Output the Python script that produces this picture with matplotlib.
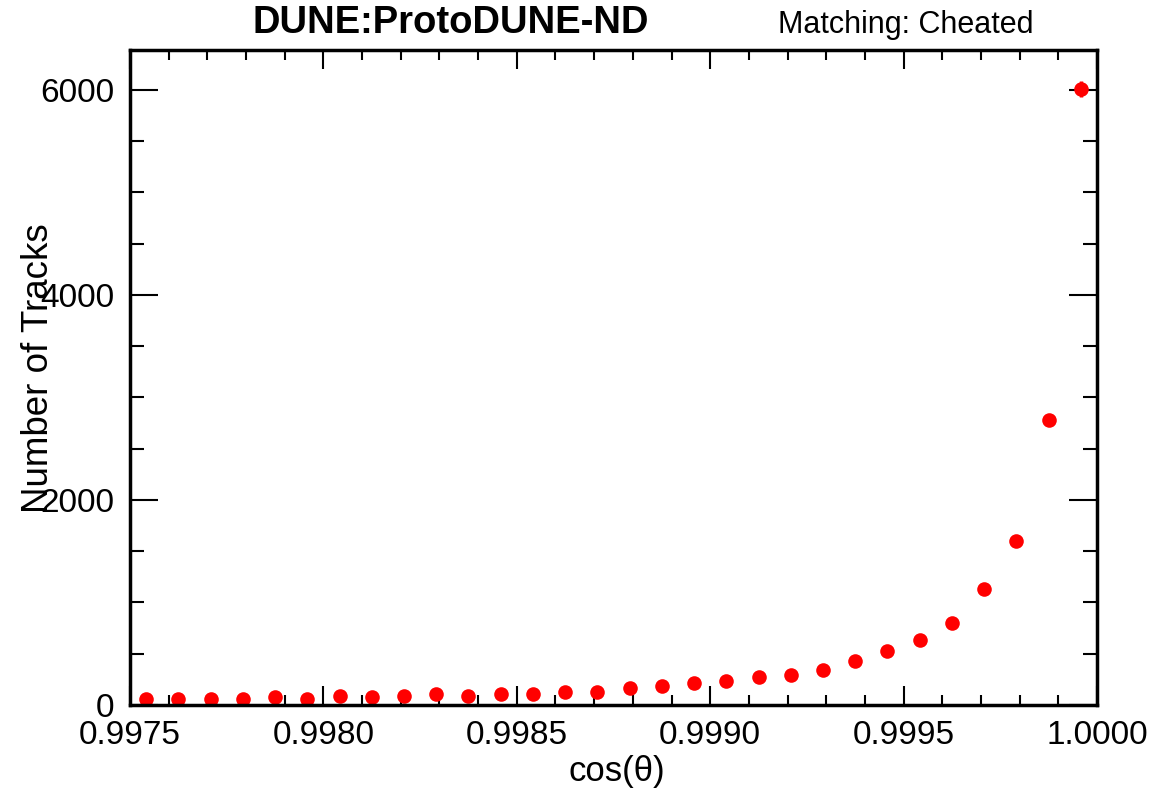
import matplotlib
matplotlib.use("Agg")
import matplotlib.pyplot as plt
import numpy as np
from matplotlib.ticker import MultipleLocator, FuncFormatter

plt.rcParams['font.family'] = ['Liberation Sans', 'DejaVu Sans']

# 30 bins in cos(theta) from 0.9975 to 1.0
x_min = 0.9975
x_max = 1.0
n_bins = 30
counts = [58, 58, 58, 58, 74, 56, 90, 74, 90, 106,
          90, 108, 106, 125, 130, 161, 190, 212, 230, 278,
          294, 346, 430, 529, 630, 800, 1136, 1597, 2780, 6010]

title = "DUNE:ProtoDUNE-ND"
subtitle = "Matching: Cheated"
x_label = "cos(θ)"
y_label = "Number of Tracks"

edges = np.linspace(x_min, x_max, n_bins + 1)
centers = 0.5 * (edges[:-1] + edges[1:])
errors = np.sqrt(counts)

fig = plt.figure(figsize=(11.71, 7.90), dpi=100)
ax = fig.add_axes([0.111, 0.1076, 0.8258, 0.8291])

ax.errorbar(centers, counts, yerr=errors, fmt='o', color='#ff0000',
            markersize=10.5, elinewidth=2.5, capsize=0, markeredgewidth=0)

ax.set_xlim(x_min, x_max)
ax.set_ylim(0, 6390)

ax.xaxis.set_major_locator(MultipleLocator(0.0005))
ax.xaxis.set_minor_locator(MultipleLocator(0.0001))
ax.xaxis.set_major_formatter(FuncFormatter(lambda v, p: f"{v:.4f}"))
ax.yaxis.set_major_locator(MultipleLocator(2000))
ax.yaxis.set_minor_locator(MultipleLocator(500))

ax.tick_params(axis='x', which='major', direction='in', length=14, width=1.5,
               top=True, labelsize=24, pad=11)
ax.tick_params(axis='x', which='minor', direction='in', length=7, width=1.5, top=True)
ax.tick_params(axis='y', which='major', direction='in', length=20, width=1.5,
               right=True, labelsize=24, pad=11)
ax.tick_params(axis='y', which='minor', direction='in', length=10, width=1.5, right=True)

for sp in ax.spines.values():
    sp.set_linewidth(2.5)

# axis titles placed like ROOT does it
ax.text(0.553, -0.077, x_label, transform=ax.transAxes, ha='right', va='top',
        fontsize=25)
ax.text(-0.095, 0.735, y_label, transform=ax.transAxes, ha='center', va='top',
        rotation=90, fontsize=26.5)

fig.text(451 / 1171, 1 - 23 / 790, title, ha='center', va='center',
         fontsize=27.5, fontweight='bold')
fig.text(778 / 1171, 1 - 25 / 790, subtitle, ha='left', va='center', fontsize=22)

fig.savefig("out.png", dpi=100)
